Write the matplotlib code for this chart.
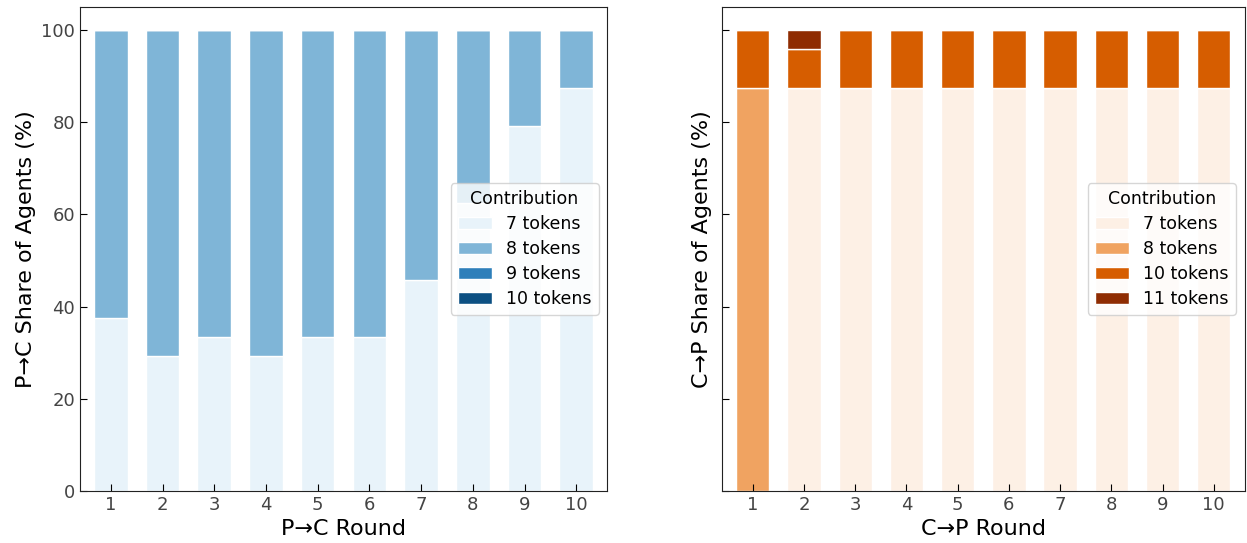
import numpy as np
import matplotlib.pyplot as plt

rounds = list(range(1, 11))

# P->C contributions (% of agents)
pc_labels = ['7 tokens', '8 tokens', '9 tokens', '10 tokens']
pc_7 = [37.5, 29.2, 33.3, 29.2, 33.3, 33.3, 45.8, 62.5, 79.2, 87.5]
pc_8 = [62.5, 70.8, 66.7, 70.8, 66.7, 66.7, 54.2, 37.5, 20.8, 12.5]
pc_9 = [0, 0, 0, 0, 0, 0, 0, 0, 0, 0]
pc_10 = [0, 0, 0, 0, 0, 0, 0, 0, 0, 0]

# C->P contributions (% of agents)
cp_labels = ['7 tokens', '8 tokens', '10 tokens', '11 tokens']
cp_7 = [0, 87.5, 87.5, 87.5, 87.5, 87.5, 87.5, 87.5, 87.5, 87.5]
cp_8 = [87.5, 0, 0, 0, 0, 0, 0, 0, 0, 0]
cp_10 = [12.5, 8.3, 12.5, 12.5, 12.5, 12.5, 12.5, 12.5, 12.5, 12.5]
cp_11 = [0, 4.2, 0, 0, 0, 0, 0, 0, 0, 0]

blues = ['#e8f3fa', '#7fb5d7', '#2e7fba', '#0b4f82']
oranges = ['#fdf0e5', '#f0a361', '#d65d00', '#8f2c02']


def stacked(ax, series, labels, colors):
    bottom = np.zeros(len(rounds))
    for vals, lab, col in zip(series, labels, colors):
        ax.bar(rounds, vals, bottom=bottom, width=0.65, color=col,
               edgecolor='white', linewidth=1, label=lab)
        bottom += np.array(vals)
    ax.set_xticks(rounds)
    ax.set_xlim(0.4, 10.6)
    ax.set_ylim(0, 105)
    ax.tick_params(direction='in', labelsize=13, labelcolor='#444444', length=5)
    for s in ax.spines.values():
        s.set_color('#222222')
    leg = ax.legend(title='Contribution', loc='center right', fontsize=12.5,
                    title_fontsize=12.5, bbox_to_anchor=(1.0, 0.5),
                    labelspacing=0.4)
    leg.get_frame().set_alpha(0.8)


fig = plt.figure(figsize=(12.47, 5.43), dpi=100)
ax1 = fig.add_axes([0.064, 0.096, 0.423, 0.891])
ax2 = fig.add_axes([0.579, 0.096, 0.419, 0.891])

stacked(ax1, [pc_7, pc_8, pc_9, pc_10], pc_labels, blues)
ax1.set_xlabel('P→C Round', fontsize=16)
ax1.set_ylabel('P→C Share of Agents (%)', fontsize=16)

stacked(ax2, [cp_7, cp_8, cp_10, cp_11], cp_labels, oranges)
ax2.set_xlabel('C→P Round', fontsize=16)
ax2.set_ylabel('C→P Share of Agents (%)', fontsize=16)
ax2.set_yticklabels([])

plt.savefig('out.png')
